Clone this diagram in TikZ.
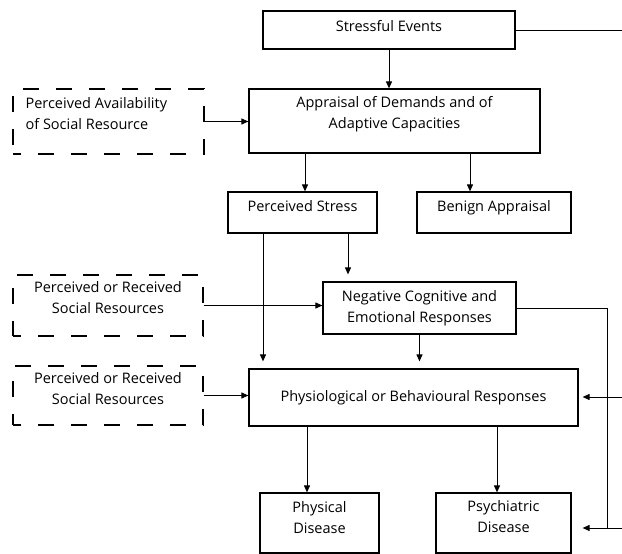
\documentclass[tikz,border=0pt]{standalone}
\usepackage{fontspec}
\setmainfont{Open Sans}
\usetikzlibrary{positioning, arrows.meta}

\tikzset{
  box/.style={draw, line width=1.2pt, inner sep=0pt},
  dbox/.style={box, dash pattern=on 16pt off 17pt, dash phase=8pt},
  txt/.style={anchor=north, yshift=-9pt, inner sep=0pt, align=center},
  conn/.style={line width=1pt},
  arr/.style={conn, -{Triangle[length=7pt, width=6pt]}},
}

\begin{document}
\begin{tikzpicture}[x=1pt, y=-1pt, font=\fontsize{14.5}{21}\selectfont]
    \useasboundingbox (0,0) rectangle (622,554);

    % Main chain
    \node[box, minimum width=252pt, minimum height=38pt,
          label={[txt, yshift=-1pt]north:Stressful Events}] (stress) at (389,30) {};
    \node[box, minimum width=291pt, minimum height=64pt,
          label={[txt, yshift=1pt]north:{Appraisal of Demands and of\\Adaptive Capacities}}] (appr) at (394.5,121) {};
    \node[box, minimum width=149pt, minimum height=41pt,
          label={[txt]north:Perceived Stress}] (pstress) at (302.5,212.5) {};
    \node[box, minimum width=154pt, minimum height=41pt,
          label={[txt]north:Benign Appraisal}] (benign) at (494,212.5) {};
    \node[box, minimum width=193pt, minimum height=52pt,
          label={[txt]north:{Negative Cognitive and\\Emotional Responses}}] (negresp) at (419.5,308) {};
    \node[box, minimum width=329pt, minimum height=57pt] (physio) at (413.5,397.5)
          {Physiological or Behavioural Responses};
    \node[box, minimum width=119pt, minimum height=60pt,
          label={[txt]north:{Physical\\Disease}}] (physical) at (319.5,523) {};
    \node[box, minimum width=135pt, minimum height=60pt,
          label={[txt, yshift=1pt]north:{Psychiatric\\Disease}}] (psych) at (503.5,523) {};

    % Social resources (dashed)
    \node[dbox, minimum width=191pt, minimum height=65pt,
          label={[txt, anchor=north west, xshift=13pt, align=left]north west:{Perceived Availability\\of Social Resource}}] (avail) at (108.5,121.5) {};
    \node[dbox, minimum width=190pt, minimum height=61pt,
          label={[txt, yshift=2pt]north:{Perceived or Received\\Social Resources}}] (socres1) at (108,305.5) {};
    \node[dbox, minimum width=190pt, minimum height=59pt,
          label={[txt, yshift=2pt]north:{Perceived or Received\\Social Resources}}] (socres2) at (108,395.5) {};

    % Right-hand feed
    \coordinate (rtop) at (622,30);
    \coordinate (rmid) at (622,397);
    \coordinate (rlow) at (622,528);
    \coordinate (rbus) at (607,528);

    % Connectors
    \draw[arr] (stress.south) -- (stress.south |- appr.north);
    \draw[conn] (stress.east) -- (rtop);
    \draw[arr] (avail.east) -- (avail.east -| appr.west);
    \draw[arr] ([xshift=2.5pt]pstress.north |- appr.south) -- ([xshift=2.5pt]pstress.north);
    \draw[arr] ([xshift=-24pt]benign.north |- appr.south) -- ([xshift=-24pt]benign.north);
    \draw[arr, shorten >=7pt] ([xshift=-39.5pt]pstress.south) -- ([xshift=-39.5pt]pstress.south |- physio.north);
    \draw[arr, shorten >=7pt] ([xshift=45.5pt]pstress.south) -- ([xshift=45.5pt]pstress.south |- negresp.north);
    \draw[arr] (socres1.east) -- (socres1.east -| negresp.west);
    \draw[arr, shorten >=7pt] (negresp.south) -- (negresp.south |- physio.north);
    \draw[arr] (socres2.east) -- (socres2.east -| physio.west);
    \draw[conn] (negresp.east) -| (rbus);
    \draw[arr, shorten >=4pt] (rmid) -- (rmid -| physio.east);
    \draw[arr, shorten >=11pt] (rlow) -- (rlow -| psych.east);
    \draw[arr] ([xshift=-12.5pt]physical.north |- physio.south) -- ([xshift=-12.5pt]physical.north);
    \draw[arr] ([xshift=-6.5pt]psych.north |- physio.south) -- ([xshift=-6.5pt]psych.north);
\end{tikzpicture}
\end{document}
